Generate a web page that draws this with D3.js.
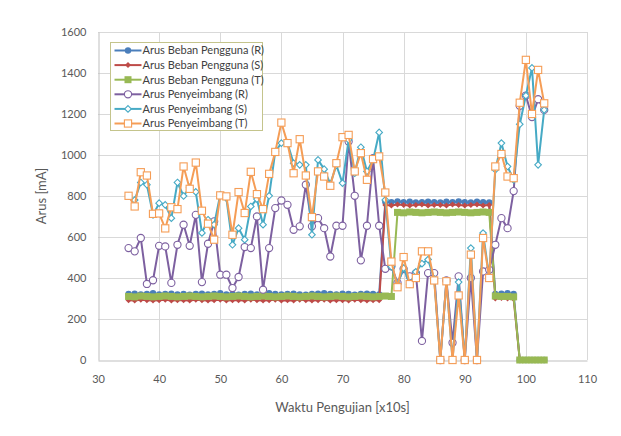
<!DOCTYPE html>
<html>
<head>
<meta charset="utf-8">
<script src="https://cdn.jsdelivr.net/npm/d3@7"></script>
<style>
  body { margin: 0; background: #fff; }
  svg { display: block; font-family: Lato, 'Open Sans', sans-serif; }
</style>
</head>
<body>
<div id="chart"></div>
<script>
const xValues = d3.range(35, 104);

const xTicks = [30, 40, 50, 60, 70, 80, 90, 100, 110];
const yTicks = [0, 200, 400, 600, 800, 1000, 1200, 1400, 1600];

// Arus Beban Pengguna (x = 35 .. 103)
const bebanR = [
  322, 324, 320, 322, 326, 320, 322, 324, 320, 322, 318, 322, 324, 320, 322, 326, 320, 322, 318, 322, 324,
  320, 322, 326, 322, 320, 322, 324, 320, 318, 322, 324, 326, 322, 320, 324, 322, 318, 322, 324, 322, 320,
  772, 770, 774, 770, 772, 768, 770, 772, 770, 768, 772, 770, 774, 770, 768, 772, 770, 768,
  322, 324, 326, 322,
  0, 0, 0, 0, 0
];
const bebanS = [
  292, 290, 294, 292, 290, 292, 294, 290, 292, 292, 290, 294, 292, 290, 292, 294, 290, 292, 292, 290, 294,
  292, 290, 292, 294, 290, 292, 290, 294, 292, 290, 292, 294, 290, 292, 292, 290, 294, 292, 290, 292, 292,
  756, 754, 758, 756, 754, 756, 758, 754, 756, 756, 754, 758, 756, 754, 756, 758, 754, 756,
  300, 302, 300, 298,
  0, 0, 0, 0, 0
];
const bebanT = [
  310, 308, 312, 310, 308, 310, 312, 310, 308, 310, 312, 310, 308, 310, 312, 310, 308, 310, 312, 310, 308, 310,
  312, 310, 308, 310, 312, 310, 308, 310, 312, 310, 308, 310, 312, 310, 308, 310, 312, 310, 308, 310, 312, 310,
  720, 718, 722, 720, 718, 720, 722, 720, 718, 720, 722, 720, 718, 720, 722, 720,
  312, 310, 310, 308,
  0, 0, 0, 0, 0
];

// Arus Penyeimbang (x = 35 .. 103)
const penyeimbangR = [
  546, 530, 595, 371, 389, 557, 554, 376, 562, 660, 557, 708, 380, 567, 676, 416, 416, 351, 405, 551,
  546, 700, 343, 546, 741, 778, 757, 635, 652, 855, 652, 692, 643, 505, 655, 655, 1066, 801, 486, 655,
  985, 655, 445, 457, 376, 444, 408, 424, 93, 424, 424, 0, 388, 84, 408, 0, 400, 0, 432, 440,
  562, 692, 643, 824, 1240, 1290, 1185, 1272, 1220
];
const penyeimbangS = [
  800, 780, 866, 855, 708, 765, 757, 692, 866, 800, 842, 820, 620, 684, 660, 806, 790, 562, 643, 587,
  749, 785, 660, 801, 1017, 1058, 1058, 960, 952, 952, 611, 976, 931, 859, 950, 863, 1074, 911, 1038, 920,
  976, 1110, 781, 455, 370, 448, 370, 430, 470, 490, 395, 0, 384, 0, 380, 0, 546, 0, 619, 405,
  928, 1058, 944, 879, 1150, 1290, 1425, 952, 1220
];
const penyeimbangT = [
  801, 749, 916, 900, 713, 715, 642, 745, 736, 944, 835, 963, 728, 665, 587, 803, 798, 611, 819, 717,
  918, 809, 736, 908, 1015, 1158, 1058, 911, 1077, 900, 697, 920, 895, 850, 960, 1087, 1098, 920, 1009, 879,
  980, 993, 817, 480, 355, 502, 370, 400, 530, 530, 388, 0, 384, 0, 315, 0, 514, 0, 595, 400,
  944, 1005, 895, 887, 1255, 1464, 1200, 1415, 1252
];

const seriesNames = [
  'Arus Beban Pengguna (R)',
  'Arus Beban Pengguna (S)',
  'Arus Beban Pengguna (T)',
  'Arus Penyeimbang (R)',
  'Arus Penyeimbang (S)',
  'Arus Penyeimbang (T)',
];
const seriesValues = [bebanR, bebanS, bebanT, penyeimbangR, penyeimbangS, penyeimbangT];
const seriesColors = ['#4a7ebb', '#be4b48', '#98b954', '#7d60a0', '#46aac5', '#f59d56'];
const seriesMarkers = ['dot', 'smallDiamond', 'bigSquare', 'ring', 'openDiamond', 'openSquare'];

const width = 621;
const height = 436;
const margin = { top: 32, right: 34, bottom: 76, left: 98 };

const svg = d3.select('#chart').append('svg').attr('width', width).attr('height', height);
svg.append('rect').attr('width', width).attr('height', height).attr('fill', '#fff');

const x = d3.scaleLinear().domain([30, 110]).range([margin.left, width - margin.right]);
const y = d3.scaleLinear().domain([0, 1600]).range([height - margin.bottom, margin.top]);

// gridlines
svg
  .append('g')
  .selectAll('line')
  .data(yTicks.slice(1))
  .join('line')
  .attr('x1', x(30))
  .attr('x2', x(110))
  .attr('y1', (d) => Math.round(y(d)) + 0.5)
  .attr('y2', (d) => Math.round(y(d)) + 0.5)
  .attr('stroke', '#d9d9d9');
svg
  .append('g')
  .selectAll('line')
  .data(xTicks.slice(1))
  .join('line')
  .attr('x1', (d) => Math.round(x(d)) + 0.5)
  .attr('x2', (d) => Math.round(x(d)) + 0.5)
  .attr('y1', y(0))
  .attr('y2', y(1600))
  .attr('stroke', '#d9d9d9');

// axes
const xAxis = d3.axisBottom(x).tickValues(xTicks).tickSize(0).tickPadding(15).tickFormat(d3.format('d'));
const yAxis = d3.axisLeft(y).tickValues(yTicks).tickSize(0).tickPadding(12).tickFormat(d3.format('d'));

const gx = svg
  .append('g')
  .attr('transform', `translate(0, ${Math.round(y(0)) + 0.5})`)
  .call(xAxis);
const gy = svg
  .append('g')
  .attr('transform', `translate(${Math.round(x(30)) + 0.5}, 0)`)
  .call(yAxis);
[gx, gy].forEach((g) => {
  g.select('.domain').attr('stroke', '#bfbfbf');
  g.selectAll('text').attr('fill', '#595959').style('font-size', '11px').style('font-family', 'Lato, sans-serif');
});

svg
  .append('text')
  .attr('transform', 'rotate(-90)')
  .attr('x', -y(800))
  .attr('y', 46)
  .attr('text-anchor', 'middle')
  .attr('fill', '#595959')
  .style('font-size', '13px')
  .text('Arus [mA]');

svg
  .append('text')
  .attr('x', (x(30) + x(110)) / 2)
  .attr('y', 412)
  .attr('text-anchor', 'middle')
  .attr('fill', '#595959')
  .style('font-size', '13px')
  .text('Waktu Pengujian [x10s]');

const drawMarker = (g, kind, color, cx, cy) => {
  if (kind === 'dot') {
    g.append('circle').attr('cx', cx).attr('cy', cy).attr('r', 3.2).attr('fill', color);
  } else if (kind === 'smallDiamond') {
    const s = 3;
    g.append('path')
      .attr('d', `M${cx},${cy - s}L${cx + s},${cy}L${cx},${cy + s}L${cx - s},${cy}Z`)
      .attr('fill', color);
  } else if (kind === 'bigSquare') {
    g.append('rect').attr('x', cx - 3.5).attr('y', cy - 3.5).attr('width', 7).attr('height', 7).attr('fill', color);
  } else if (kind === 'ring') {
    g.append('circle')
      .attr('cx', cx)
      .attr('cy', cy)
      .attr('r', 3.6)
      .attr('fill', '#fff')
      .attr('stroke', color)
      .attr('stroke-width', 1.1);
  } else if (kind === 'openDiamond') {
    const s = 3.3;
    g.append('path')
      .attr('d', `M${cx},${cy - s}L${cx + s},${cy}L${cx},${cy + s}L${cx - s},${cy}Z`)
      .attr('fill', '#fff')
      .attr('stroke', color)
      .attr('stroke-width', 1.1);
  } else {
    g.append('rect')
      .attr('x', cx - 3.6)
      .attr('y', cy - 3.6)
      .attr('width', 7.2)
      .attr('height', 7.2)
      .attr('fill', '#fff')
      .attr('stroke', color)
      .attr('stroke-width', 1.1);
  }
};

const line = d3
  .line()
  .x((d) => x(d[0]))
  .y((d) => y(d[1]));

seriesValues.forEach((vals, i) => {
  const pts = xValues.map((xv, j) => [xv, vals[j]]);
  const g = svg.append('g');
  g.append('path')
    .datum(pts)
    .attr('fill', 'none')
    .attr('stroke', seriesColors[i])
    .attr('stroke-width', 2)
    .attr('stroke-linejoin', 'round')
    .attr('d', line);
  pts.forEach((p) => drawMarker(g, seriesMarkers[i], seriesColors[i], x(p[0]), y(p[1])));
});

// legend
const legend = svg.append('g').attr('transform', 'translate(110.5, 42.5)');
legend
  .append('rect')
  .attr('width', 152)
  .attr('height', 88)
  .attr('fill', '#fff')
  .attr('stroke', '#c4c48c');
seriesNames.forEach((name, i) => {
  const ly = 8 + i * 14.6;
  legend
    .append('line')
    .attr('x1', 4)
    .attr('x2', 31)
    .attr('y1', ly)
    .attr('y2', ly)
    .attr('stroke', seriesColors[i])
    .attr('stroke-width', 2);
  drawMarker(legend, seriesMarkers[i], seriesColors[i], 17.5, ly);
  legend
    .append('text')
    .attr('x', 32)
    .attr('y', ly)
    .attr('dy', '0.35em')
    .attr('fill', '#404040')
    .style('font-size', '11px')
    .text(name);
});
</script>
</body>
</html>
